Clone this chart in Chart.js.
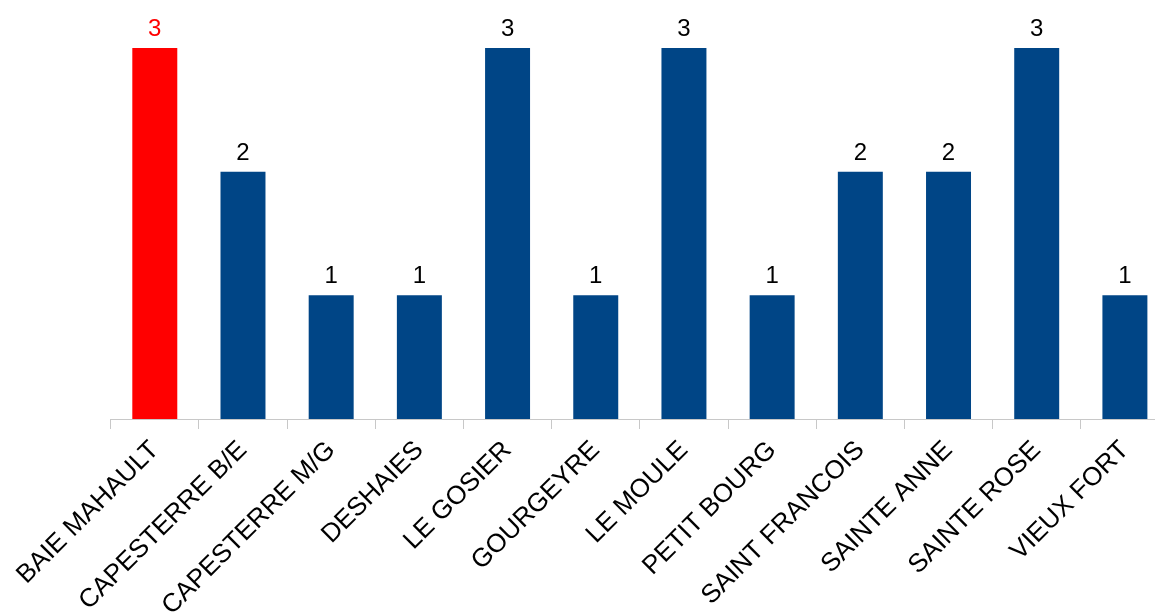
<!DOCTYPE html>
<html>
<head>
<meta charset="utf-8">
<script src="https://cdn.jsdelivr.net/npm/chart.js@4.4.1/dist/chart.umd.min.js"></script>
<style>
  html, body { margin: 0; padding: 0; background: #fff; overflow: hidden; }
  #wrap { position: relative; width: 1170px; height: 615px; }
</style>
</head>
<body>
<div id="wrap"><canvas id="chart"></canvas></div>
<script>
const communes = [
  "BAIE MAHAULT", "CAPESTERRE B/E", "CAPESTERRE M/G", "DESHAIES", "LE GOSIER",
  "GOURGEYRE", "LE MOULE", "PETIT BOURG", "SAINT FRANCOIS", "SAINTE ANNE",
  "SAINTE ROSE", "VIEUX FORT"
];
const counts = [3, 2, 1, 1, 3, 1, 3, 1, 2, 2, 3, 1];
const highlighted = "BAIE MAHAULT";

const BLUE = "#004586";
const RED = "#ff0000";
const FONT = "'Liberation Sans', Arial, sans-serif";

const barColors = communes.map(c => (c === highlighted ? RED : BLUE));

// draws the value above each bar
const valueLabels = {
  id: "valueLabels",
  afterDatasetsDraw(chart) {
    const ctx = chart.ctx;
    const meta = chart.getDatasetMeta(0);
    ctx.save();
    ctx.font = "24px " + FONT;
    ctx.textAlign = "center";
    ctx.textBaseline = "alphabetic";
    meta.data.forEach((bar, i) => {
      ctx.fillStyle = communes[i] === highlighted ? RED : "#000";
      ctx.fillText(String(counts[i]), bar.x, bar.y - 12);
    });
    ctx.restore();
  }
};

const ctx = document.getElementById("chart").getContext("2d");
new Chart(ctx, {
  type: "bar",
  data: {
    labels: communes,
    datasets: [{
      data: counts,
      backgroundColor: barColors,
      borderWidth: 0,
      categoryPercentage: 1,
      barPercentage: 0.51
    }]
  },
  options: {
    responsive: true,
    maintainAspectRatio: false,
    animation: false,
    layout: {
      padding: { left: 110.7, right: 1, top: 48, bottom: 0 }
    },
    plugins: {
      legend: { display: false },
      tooltip: { enabled: false }
    },
    scales: {
      x: {
        grid: {
          display: true,
          drawOnChartArea: false,
          drawTicks: true,
          tickLength: 10,
          color: "#c8c8c8",
          offset: true
        },
        border: { display: true, color: "#c8c8c8", width: 1 },
        ticks: {
          color: "#000",
          font: { family: FONT, size: 26 },
          minRotation: 45,
          maxRotation: 45,
          autoSkip: false,
          padding: 6
        },
        afterFit(scale) {
          scale.height = 196;
          scale.paddingLeft = 0;
          scale.paddingRight = 0;
        }
      },
      y: {
        display: false,
        min: 0,
        max: 3
      }
    }
  },
  plugins: [valueLabels]
});
</script>
</body>
</html>
